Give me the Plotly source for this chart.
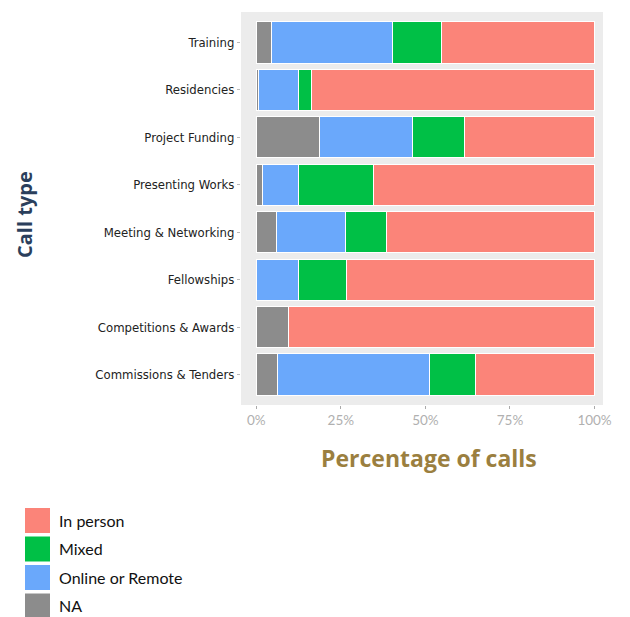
import plotly.graph_objects as go

# ── Data ─────────────────────────────────────────────────────────────────────
categories = [
    "Training", "Residencies", "Project Funding", "Presenting Works",
    "Meeting & Networking", "Fellowships", "Competitions & Awards",
    "Commissions & Tenders",
]
na_share     = [0.044, 0.006, 0.188, 0.018, 0.059, 0.000, 0.094, 0.062]
online_share = [0.359, 0.118, 0.274, 0.108, 0.206, 0.126, 0.000, 0.450]
mixed_share  = [0.144, 0.038, 0.153, 0.221, 0.120, 0.142, 0.000, 0.135]
person_share = [0.453, 0.838, 0.385, 0.653, 0.615, 0.732, 0.906, 0.353]

series_names  = ["NA", "Online or Remote", "Mixed", "In person"]
series_values = [na_share, online_share, mixed_share, person_share]
series_colors = ["#8c8c8c", "#6aa8fb", "#00c046", "#fb8479"]

x_ticks = [0, 0.25, 0.5, 0.75, 1]
x_tick_labels = ["0%", "25%", "50%", "75%", "100%"]

# ── Geometry helpers (pixel -> paper) ────────────────────────────────────────
W, H = 630, 617
L, R, T, B = 241, 27, 12, 212
PW, PH = W - L - R, H - T - B


def px_x(x):
    return (x - L) / PW


def px_y(y):
    return (H - B - y) / PH


fig = go.Figure()
for name, vals, color in zip(series_names, series_values, series_colors):
    fig.add_trace(go.Bar(
        y=categories, x=vals, name=name, orientation="h",
        marker=dict(color=color, line=dict(color="white", width=1)),
        showlegend=False,
    ))

# manual legend, bigger swatches like the original
shapes, annotations = [], []
legend_order = list(zip(series_names, series_colors))[::-1]
for i, (name, color) in enumerate(legend_order):
    top = 508 + i * 28.5
    shapes.append(dict(
        type="rect", xref="paper", yref="paper",
        x0=px_x(25), x1=px_x(50), y0=px_y(min(top + 25, H)), y1=px_y(top),
        fillcolor=color, line_width=0,
    ))
    annotations.append(dict(
        text=name, xref="paper", yref="paper", x=px_x(57), y=px_y(top + 12),
        xanchor="left", yanchor="middle", showarrow=False,
        font=dict(size=16, color="#111111", family="Lato"),
    ))

annotations += [
    dict(text="<b>Call type</b>", xref="paper", yref="paper",
         x=px_x(24), y=px_y(215), textangle=-90, showarrow=False,
         xanchor="center", yanchor="middle",
         font=dict(size=20, color="#2b3f5c", family="Open Sans")),
    dict(text="<b>Percentage of calls</b>", xref="paper", yref="paper",
         x=px_x(429), y=px_y(458), showarrow=False,
         xanchor="center", yanchor="middle",
         font=dict(size=23, color="#9b7f3f", family="Open Sans")),
]

fig.update_layout(
    barmode="stack",
    bargap=0.13,
    width=W, height=H,
    margin=dict(l=L, r=R, t=T, b=B),
    paper_bgcolor="white",
    plot_bgcolor="#ececec",
    xaxis=dict(
        range=[-0.045, 1.025], tickvals=x_ticks, ticktext=x_tick_labels,
        showgrid=False, zeroline=False, ticks="outside", ticklen=3,
        tickcolor="#aaaaaa", tickfont=dict(size=13.5, color="#b0b0b0", family="Lato"),
    ),
    yaxis=dict(
        categoryorder="array", categoryarray=categories[::-1],
        range=[-0.64, 7.64], showgrid=False, ticks="outside", ticklen=3,
        tickcolor="#bbbbbb",
        tickfont=dict(size=13, color="#222222", family="DejaVu Sans Condensed"),
    ),
    shapes=shapes,
    annotations=annotations,
)

# drop the default 8px body margin so the figure sits at the window corner
fig.write_html("out.html", config={"displayModeBar": False},
               post_script="document.body.style.margin='0px';")
